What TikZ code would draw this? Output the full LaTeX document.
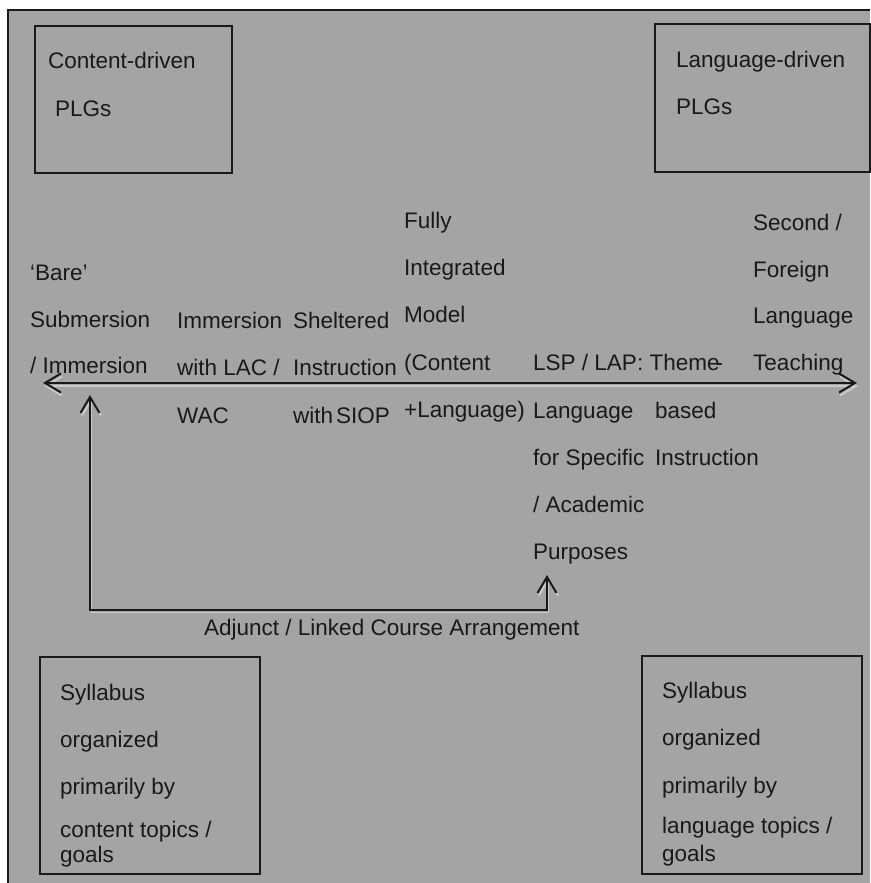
\documentclass[tikz,border=0pt]{standalone}
\usepackage{fontspec}
\setmainfont{Liberation Sans}
\usetikzlibrary{arrows.meta}
\definecolor{bg}{RGB}{163,164,163}
\definecolor{ink}{RGB}{25,25,25}
\definecolor{glow}{RGB}{200,201,200}
\begin{document}
\begin{tikzpicture}[x=1pt,y=-1pt,
  txt/.style={anchor=base west, inner sep=0pt, text=ink, font=\fontsize{22.5}{27}\selectfont},
  box/.style={draw=ink, line width=2pt, anchor=north west, inner sep=0pt},
  conn/.style={draw=black!90, line width=2pt},
  glowline/.style={draw=glow, line width=1.6pt},
  barb/.tip={Straight Barb[length=16pt,width=19pt,line width=2pt]}]
\useasboundingbox (0,0) rectangle (870,883);
\fill[white] (0,0) rectangle (870,883);
\fill[bg] (8,10) rectangle (870,883);
\draw[line width=2pt, ink] (8,883) -- (8,10) -- (870,10);

% boxes
\node (bTL) [box, minimum width=197pt, minimum height=147pt] at (34,25) {};
\node (bTR) [box, minimum width=215pt, minimum height=148pt] at (654,23) {};
\node (bBL) [box, line width=1.6pt, minimum width=220pt, minimum height=217pt] at (39,656) {};
\node (bBR) [box, line width=1.6pt, minimum width=220pt, minimum height=218pt] at (641,655) {};

% box texts
\node (t1) [txt] at (48,69) {Content-driven};
\node (t2) [txt] at (55,116) {PLGs};
\node (t3) [txt] at (676,67) {Language-driven};
\node (t4) [txt] at (676,114) {PLGs};

\node (s1) [txt] at (60,700) {Syllabus};
\node (s2) [txt] at (60,747) {organized};
\node (s3) [txt] at (60,794) {primarily by};
\node (s4) [txt] at (60,837) {content topics /};
\node (s5) [txt] at (60,862) {goals};

\node (r1) [txt] at (662,698) {Syllabus};
\node (r2) [txt] at (662,745) {organized};
\node (r3) [txt] at (662,793) {primarily by};
\node (r4) [txt] at (662,833) {language topics /};
\node (r5) [txt] at (662,861) {goals};

% columns
\node (a1) [txt] at (30,280) {`Bare'};
\node (a2) [txt] at (30,327) {Submersion};
\node (a3) [txt] at (30,373) {/ Immersion};

\node (i1) [txt] at (177,328) {Immersion};
\node (i2) [txt] at (177,375) {with LAC /};
\node (i3) [txt] at (177,423) {WAC};

\node (h1) [txt] at (293,328) {Sheltered};
\node (h2) [txt] at (293,375) {Instruction};
\node (h3) [txt] at (293,423) {with\hspace{3pt}SIOP};

\node (f1) [txt] at (404,228) {Fully};
\node (f2) [txt] at (404,275) {Integrated};
\node (f3) [txt] at (404,322) {Model};
\node (f4) [txt] at (404,370) {(Content};
\node (f5) [txt] at (404,417) {+Language)};

\node (l1) [txt] at (533,370) {LSP / LAP: Theme\kern-4pt-};
\node (l2) [txt] at (533,418) {Language};
\node (l3) [txt] at (533,465) {for Specific};
\node (l4) [txt] at (533,512) {/ Academic};
\node (l5) [txt] at (533,559) {Purposes};

\node (m1) [txt] at (655,418) {based};
\node (m2) [txt] at (655,465) {Instruction};

\node (e1) [txt] at (753,230) {Second /};
\node (e2) [txt] at (753,277) {Foreign};
\node (e3) [txt] at (753,323) {Language};
\node (e4) [txt] at (753,370) {Teaching};

\node (adj) [txt] at (204,635) {Adjunct / Linked Course Arrangement};

% connectors
\coordinate (hl) at (43,383);
\coordinate (hr) at (857,383);
\coordinate (v1) at (90,395);
\coordinate (c1) at (90,610);
\coordinate (c2) at (547,610);
\coordinate (v2) at (547,575);

\draw[glowline, barb-barb] ([shift={(1,3)}]hl) -- ([shift={(1,3)}]hr);
\draw[glowline, barb-barb] ([shift={(1.5,2.5)}]v1) -- ([shift={(1.5,2.5)}]c1) -- ([shift={(1.5,2.5)}]c2) -- ([shift={(1.5,2.5)}]v2);
\draw[conn, barb-barb] (hl) -- (hr);
\draw[conn, barb-barb] (v1) -- (c1) -- (c2) -- (v2);
\end{tikzpicture}
\end{document}
